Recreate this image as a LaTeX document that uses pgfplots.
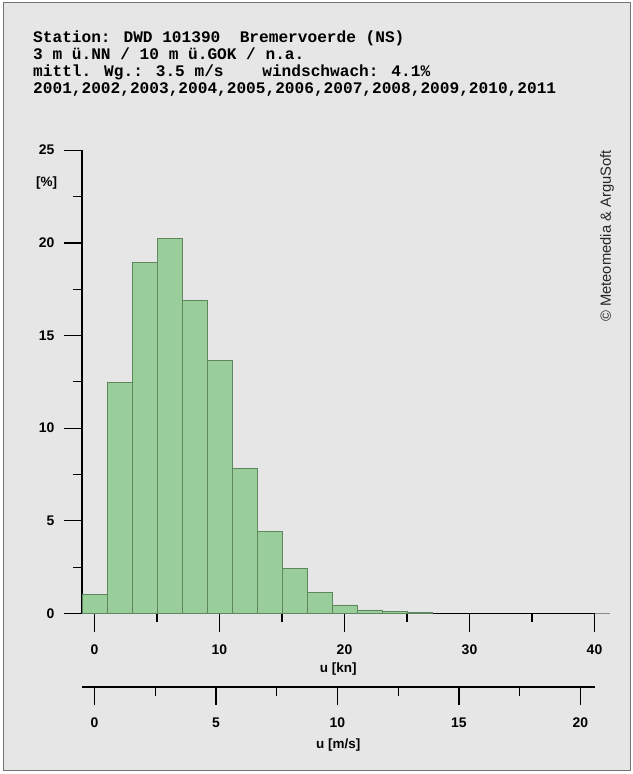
\documentclass[border=0pt]{standalone}
\usepackage{pgfplots}
\pgfplotsset{compat=1.18}
\usepackage{fontspec}
\setmainfont{Liberation Sans}
\newfontfamily\monofont{Liberation Mono}
\definecolor{bg}{RGB}{230,230,230}
\definecolor{barfill}{RGB}{153,205,153}
\definecolor{baredge}{RGB}{95,135,95}
\begin{document}
\begin{tikzpicture}
\fill[white] (0,0) rectangle (633bp,774bp);
\filldraw[fill=bg, draw=black!55, line width=1bp] (3bp,3bp) rectangle (630bp,771bp);
% header
\begin{scope}[every node/.style={anchor=base west, inner sep=0pt, font=\monofont\bfseries\fontsize{16.2}{17}\selectfont}]
\node at (33bp,774bp-43bp) {Station: DWD 101390\ \ Bremervoerde (NS)};
\node at (33bp,774bp-60bp) {3 m ü.NN / 10 m ü.GOK / n.a.};
\node at (33bp,774bp-77bp) {mittl. Wg.: 3.5 m/s\ \ \ \ windschwach: 4.1\%};
\node at (33bp,774bp-94bp) {2001,2002,2003,2004,2005,2006,2007,2008,2009,2010,2011};
\end{scope}
\node[rotate=90, font=\fontsize{14.8}{16}\selectfont, text=black!85] at (607bp,774bp-236bp) {© Meteomedia \& ArguSoft};
% main axis
\begin{axis}[
  at={(82bp,160.5bp)}, anchor=south west,
  scale only axis, width=512.5bp, height=463.3bp,
  xmin=-1, xmax=40, ymin=0, ymax=25,
  axis x line*=bottom, axis y line*=left,
  axis line style={black, line width=1.3bp, -},
  xtick={0,10,20,30,40}, minor xtick={5,15,25,35},
  ytick={0,5,10,15,20,25}, minor ytick={2.5,7.5,12.5,17.5,22.5},
  tick align=outside,
  major tick length=18bp, minor tick length=9bp,
  every tick/.style={black, line width=1.3bp},
  /pgf/number format/assume math mode=true,
  tick label style={font=\bfseries\fontsize{14}{16}\selectfont},
  xticklabel style={yshift=-10bp},
  yticklabel style={xshift=-6bp},
  xlabel={u [kn]},
  xlabel style={font=\bfseries\fontsize{13.5}{15}\selectfont, at={(axis description cs:0.5,0)}, anchor=center, yshift=-56bp},
  clip=false,
]
\addplot[ybar interval, fill=barfill, draw=baredge, line width=0.8bp] coordinates {
(-1,1.05) (1,12.47) (3,18.92) (5,20.24) (7,16.87) (9,13.67) (11,7.81) (13,4.45)
(15,2.45) (17,1.12) (19,0.46) (21,0.19) (23,0.1) (25,0.04) (27,0.04)};
\draw[black!45, line width=1bp] (axis cs:40,0) -- (axis cs:41.2,0);
\node[font=\bfseries\fontsize{13.5}{15}\selectfont] at (axis cs:-1,25) [xshift=-35.3bp, yshift=-32.7bp] {[\%]};
\end{axis}
% m/s axis
\begin{axis}[
  at={(82bp,87.3bp)}, anchor=south west,
  scale only axis, width=512.5bp, height=10bp,
  xmin=-0.514444, xmax=20.5778, ymin=0, ymax=1,
  axis x line*=bottom, hide y axis,
  axis line style={black, line width=1.8bp, -},
  xtick={0,5,10,15,20}, minor xtick={2.5,7.5,12.5,17.5},
  tick align=outside,
  major tick length=18bp, minor tick length=9bp,
  every tick/.style={black, line width=1.3bp},
  /pgf/number format/assume math mode=true,
  tick label style={font=\bfseries\fontsize{14}{16}\selectfont},
  xticklabel style={yshift=-10bp},
  xlabel={u [m/s]},
  xlabel style={font=\bfseries\fontsize{13.5}{15}\selectfont, at={(axis description cs:0.5,0)}, anchor=center, yshift=-58.5bp},
]
\addplot[draw=none] coordinates {(0,0) (20,0)};
\end{axis}
\end{tikzpicture}
\end{document}
